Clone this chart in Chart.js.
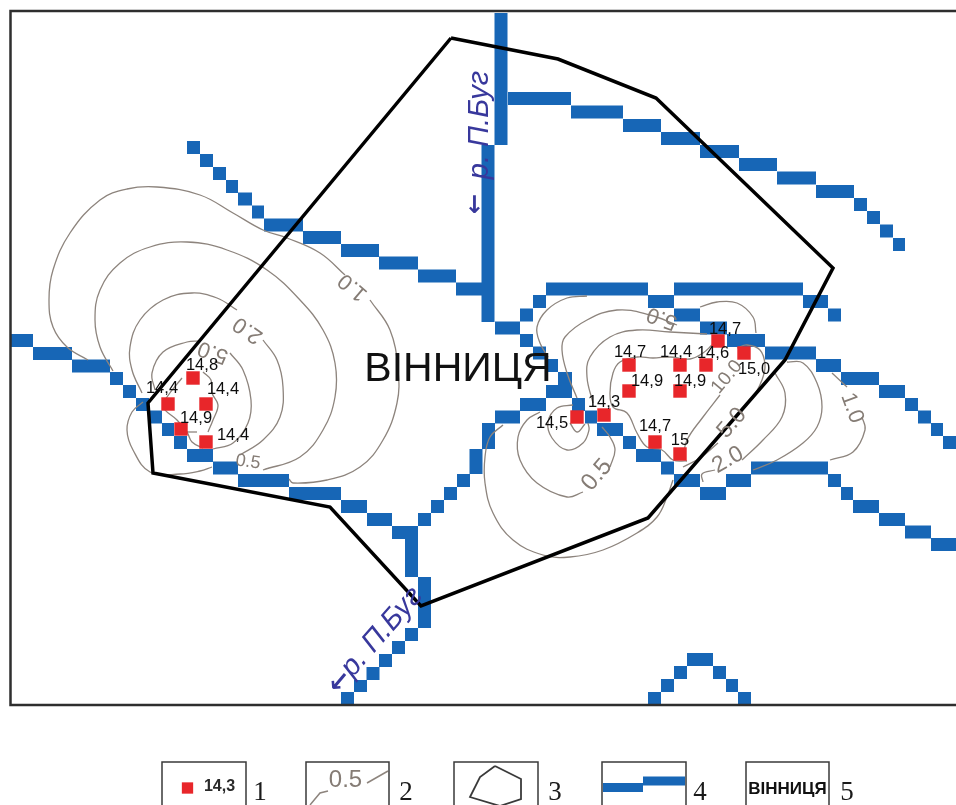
<!DOCTYPE html>
<html>
<head>
  <title>Вінниця</title>
  <script src="https://cdn.jsdelivr.net/npm/chart.js"></script>
  <style>
    html, body { margin: 0; padding: 0; background: #fff; }
    canvas { display: block; }
  </style>
</head>
<body>
  <canvas id="mapChart" width="956" height="805"></canvas>

  <script>
    // map units are read straight off the picture, y runs downwards

    // sampling points and their values
    var pointValues = ['14,8', '14,4', '14,4', '14,9', '14,4', '14,5', '14,3', '14,7', '14,9', '14,4', '14,9', '14,6', '14,7', '15,0', '14,7', '15'];
    var pointX = [193, 168, 206, 181, 206, 577, 604, 629, 629, 680, 680, 706, 718, 744, 655, 680];
    var pointY = [378, 404, 404, 429, 442, 417, 415, 365, 391, 365, 391, 365, 341, 353, 442, 454];
    var pointLabelX = [202, 162, 223, 196, 233, 552, 604, 630, 647, 676, 690, 713, 725, 754, 655, 680];
    var pointLabelY = [365, 388, 389, 418, 435, 423, 402, 352, 381, 352, 381, 353, 329, 369, 426, 440];

    // city boundary
    var boundary = [[451, 38], [558, 59], [656, 98], [833, 268], [785, 360], [648, 518], [421, 606], [330, 507], [153, 473], [148, 403], [451, 38]];

    // rivers, each piece is x1, y1, x2, y2 of a run of raster cells
    var riverSouthWest = [
      [11, 340.5, 33, 340.5], [33, 353.5, 72, 353.5], [72, 366, 110, 366], [110, 378.5, 123, 378.5],
      [123, 391.5, 136, 391.5], [136, 404.5, 149, 404.5], [149, 417, 162, 417], [162, 429.5, 174, 429.5],
      [174, 442.5, 187, 442.5], [187, 455.5, 213, 455.5], [213, 468, 238, 468], [238, 480.5, 289, 480.5],
      [289, 493.5, 341, 493.5], [341, 506.5, 367, 506.5], [367, 519.5, 392, 519.5], [392, 532.5, 418, 532.5],
      [411.5, 526, 411.5, 577], [424.5, 577, 424.5, 628], [411.5, 628, 411.5, 641], [398.5, 641, 398.5, 654],
      [385.5, 654, 385.5, 667], [373, 667, 373, 680], [360.5, 680, 360.5, 692], [347.5, 692, 347.5, 705]
    ];
    var riverNorthWest = [
      [187, 147.5, 200, 147.5], [200, 160.5, 213, 160.5], [213, 173.5, 226, 173.5], [226, 186.5, 238, 186.5],
      [238, 199, 252, 199], [252, 212, 264, 212], [264, 225, 303, 225], [303, 237.5, 341, 237.5],
      [341, 250.5, 379, 250.5], [379, 263, 418, 263], [418, 276, 456, 276], [456, 289, 482, 289]
    ];
    var riverMain = [
      [501, 13, 501, 145], [488, 145, 488, 322], [495, 328, 520, 328], [520, 315, 533, 315],
      [533, 301.5, 546, 301.5], [546, 289, 648, 289], [648, 301.5, 674, 301.5], [674, 315, 700, 315],
      [700, 328, 727, 328], [727, 340.5, 765, 340.5], [765, 353, 816, 353], [816, 365.5, 841, 365.5],
      [841, 378.5, 879, 378.5], [879, 391.5, 905, 391.5], [905, 404.5, 918, 404.5], [918, 417, 931, 417],
      [931, 429.5, 943, 429.5], [943, 442.5, 956, 442.5]
    ];
    var riverNorthEast = [
      [508, 98.5, 571, 98.5], [571, 112, 623, 112], [623, 125.5, 661, 125.5], [661, 138.5, 700, 138.5],
      [700, 151.5, 739, 151.5], [739, 164.5, 777, 164.5], [777, 178, 816, 178], [816, 191.5, 854, 191.5],
      [854, 204.5, 867, 204.5], [867, 217.5, 880, 217.5], [880, 231, 893, 231], [893, 244.5, 905, 244.5]
    ];
    var riverTopBand = [
      [674, 289, 803, 289], [803, 301.5, 828, 301.5], [828, 315, 841, 315]
    ];
    var riverMiddle = [
      [520, 340.5, 533, 340.5], [533, 353, 546, 353], [546, 365.5, 558, 365.5], [558, 378.5, 572, 378.5],
      [546, 391.5, 572, 391.5], [520, 404.5, 546, 404.5], [495, 417, 520, 417], [488.5, 423, 488.5, 449],
      [476, 449, 476, 474], [457, 480.5, 470, 480.5], [444, 493.5, 457, 493.5], [431, 506.5, 444, 506.5],
      [418, 519.5, 431, 519.5]
    ];
    var riverEastLow = [
      [572, 404.5, 585, 404.5], [585, 417, 597, 417], [597, 429.5, 623, 429.5], [623, 442.5, 636, 442.5],
      [636, 455.5, 661, 455.5], [661, 468, 674, 468], [674, 480.5, 700, 480.5], [700, 493.5, 726, 493.5],
      [726, 480.5, 751, 480.5], [751, 468, 828, 468], [828, 480.5, 841, 480.5], [841, 493.5, 853, 493.5],
      [853, 506.5, 879, 506.5], [879, 519.5, 905, 519.5], [905, 532, 931, 532], [931, 544.5, 956, 544.5]
    ];
    var riverArch = [
      [687, 659.5, 713, 659.5], [674, 672.5, 687, 672.5], [661, 685.5, 674, 685.5], [648, 698.5, 661, 698.5],
      [713, 672.5, 726, 672.5], [726, 685.5, 738, 685.5], [738, 698.5, 751, 698.5]
    ];

    // isolines west of the city
    var westOneA = [[88, 360], [67, 347], [53, 327], [49, 300], [53, 270], [70, 233], [100, 200], [127, 189], [157, 187], [200, 195], [233, 213], [263, 230], [287, 238], [320, 253], [345, 275]];
    var westOneB = [[370, 300], [390, 330], [398, 370], [397, 403], [383, 440], [360, 467], [327, 480], [293, 483], [289, 479]];
    var westHalfA = [[113, 371], [100, 347], [95, 320], [100, 290], [120, 263], [150, 247], [187, 242], [227, 250], [267, 270], [300, 300], [323, 330], [335, 363], [335, 397], [323, 430], [300, 457], [263, 470]];
    var westTwoA = [[142, 393], [132, 370], [130, 347], [140, 320], [163, 300], [192, 293], [217, 298], [237, 310]];
    var westTwoB = [[263, 340], [277, 360], [283, 387], [280, 417], [263, 440], [240, 455]];
    var westFiveA = [[155, 390], [152, 373], [163, 352], [187, 342], [200, 341]];
    var westFiveB = [[230, 353], [243, 370], [251, 400], [248, 423], [233, 443], [213, 449]];
    var westInnerA = [[182, 378], [167, 397], [163, 407], [177, 420], [187, 432], [192, 442], [203, 448]];
    var westInnerB = [[203, 372], [211, 380], [212, 393], [218, 405], [213, 420], [208, 432]];
    var westInnerC = [[182, 432], [197, 432]];
    var westLobe = [[143, 402], [132, 412], [127, 430], [133, 450], [150, 472], [180, 474], [200, 471], [212, 467]];

    // isolines east of the city
    var eastOuter = [[587, 296], [567, 298], [547, 310], [537, 327], [540, 343], [548, 357]];
    var eastSecond = [[677, 325], [650, 315], [617, 310], [587, 320], [565, 337], [562, 350], [567, 373], [577, 398]];
    var eastThird = [[707, 334], [670, 332], [637, 330], [610, 337], [590, 357], [587, 377], [593, 403]];
    var eastInner = [[712, 345], [703, 353], [690, 359], [670, 357], [653, 358], [637, 357], [620, 362], [613, 373], [610, 393], [613, 407], [627, 413], [637, 433], [647, 447], [662, 450], [673, 460], [687, 461]];
    var eastTen = [[720, 395], [703, 417], [687, 440], [683, 457]];
    var eastTop = [[700, 307], [717, 302], [737, 303], [753, 317], [756, 333]];
    var eastFiveA = [[737, 348], [747, 345], [760, 350], [765, 365], [762, 380], [753, 398]];
    var eastFiveB = [[718, 443], [700, 458], [683, 467]];
    var eastTwoA = [[775, 373], [785, 393], [782, 417], [763, 440], [742, 460]];
    var eastTwoB = [[715, 470], [702, 474], [703, 482]];
    var eastRight = [[787, 362], [803, 363], [817, 383], [822, 407], [817, 427], [803, 443], [777, 460], [753, 470]];
    var eastOneA = [[832, 373], [847, 387]];
    var eastOneB = [[862, 417], [865, 430], [853, 452], [830, 460]];
    var southOuter = [[503, 425], [490, 437], [485, 457], [485, 483], [493, 513], [513, 540], [543, 555], [570, 557], [603, 550], [637, 533], [657, 517], [667, 497], [673, 480]];
    var southMidA = [[540, 412], [527, 420], [518, 437], [520, 460], [537, 483], [567, 497], [583, 492]];
    var southMidB = [[610, 467], [615, 450], [610, 437], [602, 427]];
    var southInner = [[573, 405], [557, 408], [548, 422], [552, 438], [567, 450], [583, 443], [589, 430], [588, 423]];
    var southSmall = [[570, 423], [577, 432], [585, 424]];

    // isoline labels
    var isoText = ['1.0', '2.0', '5.0', '0.5', '5.0', '10.0', '5.0', '2.0', '1.0', '0.5'];
    var isoX = [353, 248, 213, 248, 662, 727, 732, 728, 852, 597];
    var isoY = [287, 330, 352, 462, 318, 377, 423, 460, 408, 475];

    // legend
    var legendLabels = ['1', '2', '3', '4', '5'];
    var legendLabelX = [260, 406, 555, 700, 847];
    var legendBoxLeft = [162, 306, 454, 602, 746];
    var legendBoxRight = [246, 389, 538, 686, 829];
    var legendPoint = [[187.5, 788]];
    var legendIsoA = [[310, 805], [320, 793], [328, 791]];
    var legendIsoB = [[367, 783], [388, 771]];
    var legendBoundary = [[495, 766], [521, 779], [521, 799], [500, 806], [470, 797], [480, 777], [495, 766]];
    var legendRiver = [[603, 787.5, 643, 787.5], [643, 781, 685, 781]];

    var frame = [[956, 11], [10.5, 11], [10.5, 705], [956, 705]];

    function toPoints(list) {
      return list.map(function (p) { return { x: p[0], y: p[1] }; });
    }

    function runsToPoints(runs) {
      var out = [];
      for (var i = 0; i < runs.length; i++) {
        out.push({ x: runs[i][0], y: runs[i][1] });
        out.push({ x: runs[i][2], y: runs[i][3] });
        out.push({ x: null, y: null });
      }
      return out;
    }

    function plainLine(list, color, width) {
      return {
        data: toPoints(list),
        showLine: true,
        pointRadius: 0,
        borderColor: color,
        borderWidth: width,
        borderJoinStyle: 'miter'
      };
    }

    function isoLine(list) {
      var ds = plainLine(list, '#8d847d', 1.3);
      ds.tension = 0.4;
      return ds;
    }

    function riverLine(runs, width) {
      return {
        data: runsToPoints(runs),
        showLine: true,
        spanGaps: false,
        pointRadius: 0,
        borderColor: '#1766b6',
        borderWidth: width,
        borderCapStyle: 'butt'
      };
    }

    var markerData = pointX.map(function (x, i) { return { x: x, y: pointY[i] }; });

    // first dataset ends up on top
    var datasets = [
      { data: markerData, pointStyle: 'rect', pointRadius: 9.5, pointBackgroundColor: '#e8262a', pointBorderWidth: 0 },
      { data: toPoints(legendPoint), pointStyle: 'rect', pointRadius: 8, pointBackgroundColor: '#e8262a', pointBorderWidth: 0 },
      plainLine(boundary, '#000000', 3.5),
      plainLine(frame, '#2e2e2e', 2.5)
    ];

    legendBoxLeft.forEach(function (left, i) {
      var right = legendBoxRight[i];
      datasets.push(plainLine([[left, 806], [left, 762], [right, 762], [right, 806]], '#3a3a3a', 1.5));
    });

    datasets.push(plainLine(legendIsoA, '#8d847d', 1.5));
    datasets.push(plainLine(legendIsoB, '#8d847d', 1.5));
    datasets.push(plainLine(legendBoundary, '#3a3a3a', 1.8));
    datasets.push(riverLine(legendRiver, 9));

    [westOneA, westOneB, westHalfA, westTwoA, westTwoB, westFiveA, westFiveB, westInnerA, westInnerB, westInnerC, westLobe,
     eastOuter, eastSecond, eastThird, eastInner, eastTen, eastTop, eastFiveA, eastFiveB, eastTwoA, eastTwoB, eastRight, eastOneA, eastOneB,
     southOuter, southMidA, southMidB, southInner, southSmall].forEach(function (line) {
      datasets.push(isoLine(line));
    });

    [riverSouthWest, riverNorthWest, riverMain, riverNorthEast, riverTopBand, riverMiddle, riverEastLow, riverArch].forEach(function (runs) {
      datasets.push(riverLine(runs, 13));
    });

    // angles and sizes of the rotated isoline labels
    var isoAngle = [220, 215, 200, 8, 200, -50, -50, -30, 70, -50];
    var isoSize = [22, 22, 22, 18, 22, 19, 23, 23, 22, 24];

    var textPlugin = {
      id: 'mapText',
      afterDatasetsDraw: function (chart) {
        var ctx = chart.ctx;
        var sx = chart.scales.x;
        var sy = chart.scales.y;

        function put(text, x, y, font, color, angle) {
          ctx.save();
          ctx.translate(sx.getPixelForValue(x), sy.getPixelForValue(y));
          ctx.rotate((angle || 0) * Math.PI / 180);
          ctx.font = font;
          ctx.fillStyle = color;
          ctx.textAlign = 'center';
          ctx.textBaseline = 'middle';
          ctx.fillText(text, 0, 0);
          ctx.restore();
        }

        isoText.forEach(function (t, i) {
          put(t, isoX[i], isoY[i], isoSize[i] + 'px "Liberation Sans"', '#857c75', isoAngle[i]);
        });

        pointValues.forEach(function (t, i) {
          put(t, pointLabelX[i], pointLabelY[i], '16.5px "Liberation Sans"', '#0c0c0c');
        });

        put('ВІННИЦЯ', 458, 370, '41px "Liberation Sans"', '#111111');
        put('р. П.Буг', 480, 125, 'italic 29px "Liberation Sans"', '#38389c', -90);
        put('←', 476, 204, 'bold 24px "DejaVu Sans"', '#38389c', -90);
        put('р. П.Буг', 382, 632, 'italic 29px "Liberation Sans"', '#38389c', -49);
        put('←', 340, 682, 'bold 26px "DejaVu Sans"', '#38389c', -50);

        // legend texts
        put('14,3', 219.5, 787, 'bold 16px "Liberation Sans"', '#2a2a2a');
        put('0.5', 345.5, 780, '24px "Liberation Sans"', '#857c75');
        put('ВІННИЦЯ', 787.5, 789, 'bold 17px "Liberation Sans"', '#111111');
        legendLabels.forEach(function (t, i) {
          put(t, legendLabelX[i], 793, '27px "Liberation Serif"', '#1a1a1a');
        });
      }
    };

    new Chart(document.getElementById('mapChart').getContext('2d'), {
      type: 'scatter',
      data: { datasets: datasets },
      options: {
        responsive: false,
        animation: false,
        devicePixelRatio: 1,
        layout: { padding: 0, autoPadding: false },
        plugins: { legend: { display: false }, tooltip: { enabled: false } },
        scales: {
          x: { type: 'linear', min: 0, max: 956, display: false },
          y: { type: 'linear', min: 0, max: 805, reverse: true, display: false }
        }
      },
      plugins: [textPlugin]
    });
  </script>
</body>
</html>
